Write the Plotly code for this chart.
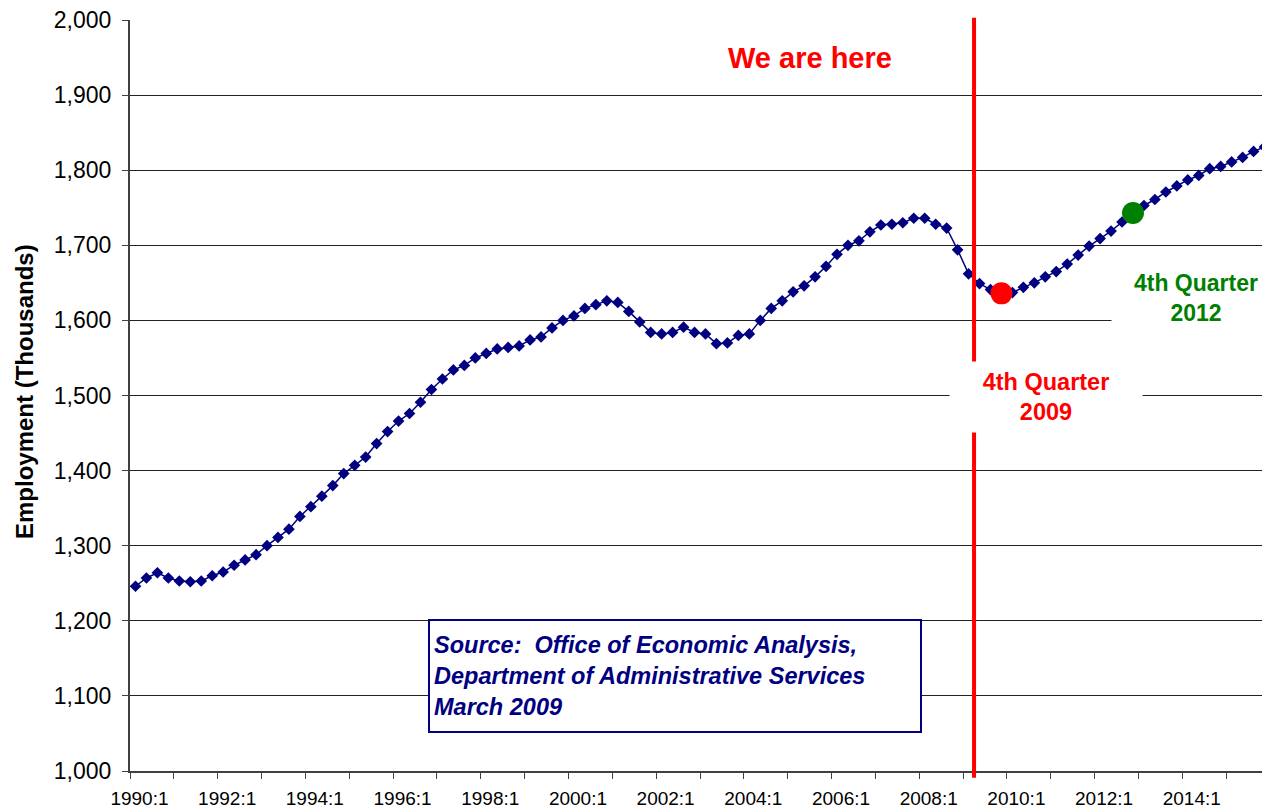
import plotly.graph_objects as go

# Quarterly employment (thousands), 1990:1 .. 2015:4
employment = [
    1246, 1257, 1264, 1257, 1253, 1252, 1253, 1260,   # 1990-1991
    1265, 1274, 1281, 1288, 1300, 1311, 1322, 1339,   # 1992-1993
    1352, 1366, 1380, 1396, 1407, 1418, 1436, 1452,   # 1994-1995
    1466, 1476, 1491, 1508, 1522, 1534, 1540, 1550,   # 1996-1997
    1556, 1562, 1564, 1566, 1574, 1578, 1590, 1600,   # 1998-1999
    1606, 1616, 1621, 1626, 1624, 1612, 1598, 1584,   # 2000-2001
    1582, 1584, 1591, 1584, 1582, 1569, 1570, 1580,   # 2002-2003
    1582, 1600, 1616, 1626, 1638, 1646, 1658, 1672,   # 2004-2005
    1688, 1700, 1706, 1718, 1727, 1728, 1730, 1736,   # 2006-2007
    1736, 1728, 1723, 1694, 1662, 1649, 1641, 1636,   # 2008-2009
    1637, 1644, 1650, 1658, 1665, 1675, 1687, 1699,   # 2010-2011
    1709, 1719, 1731, 1743, 1753, 1761, 1771, 1779,   # 2012-2013
    1787, 1793, 1802, 1805, 1811, 1817, 1825, 1831,   # 2014-2015
]

tick_labels = ["1990:1", "1992:1", "1994:1", "1996:1", "1998:1", "2000:1", "2002:1",
               "2004:1", "2006:1", "2008:1", "2010:1", "2012:1", "2014:1"]
tick_index = [0, 8, 16, 24, 32, 40, 48, 56, 64, 72, 80, 88, 96]

we_are_here_after = 76      # 2009:1
low_point = 79              # 2009:4
recovery_point = 91         # 2012:4

x = list(range(len(employment)))

NAVY = "#000080"
RED = "#ff0000"
GREEN = "#008000"
FONT = "Liberation Sans, Arial, sans-serif"

fig = go.Figure()
fig.add_trace(go.Scatter(
    x=x, y=employment, mode="lines+markers",
    line=dict(color=NAVY, width=1.5),
    marker=dict(symbol="diamond", size=9, color=NAVY),
    hoverinfo="x+y"))
fig.add_trace(go.Scatter(
    x=[x[low_point]], y=[employment[low_point]], mode="markers",
    marker=dict(size=22, color=RED)))
fig.add_trace(go.Scatter(
    x=[x[recovery_point]], y=[employment[recovery_point]], mode="markers",
    marker=dict(size=22, color=GREEN)))

# vertical "we are here" line
fig.add_shape(type="line", xref="x", yref="paper",
              x0=we_are_here_after + 0.5, x1=we_are_here_after + 0.5,
              y0=-0.009, y1=1.003, line=dict(color=RED, width=4), layer="above")

# page body has an 8px margin: size the figure so the plot area lands where the reference's does
fig.update_layout(
    width=1262, height=801,
    margin=dict(l=122, r=0, t=12, b=38),
    plot_bgcolor="white", paper_bgcolor="white",
    showlegend=False,
    font=dict(family=FONT, color="black"),
)

fig.update_xaxes(
    range=[-0.5, len(employment) - 0.5],
    tickmode="array", tickvals=tick_index, ticktext=tick_labels,
    ticks="", showgrid=False, zeroline=False,
    showline=True, linecolor="#404040", linewidth=2,
    tickfont=dict(size=19, family=FONT, color="black"),
    ticklabelstandoff=9, ticklabelshift=4, ticklabeloverflow="allow",
    minor=dict(tickmode="linear", tick0=-0.5, dtick=4, ticks="outside",
               ticklen=6, tickcolor="#404040", tickwidth=1, showgrid=False),
)
fig.update_yaxes(
    range=[1000, 2000], tickmode="linear", tick0=1000, dtick=100,
    tickformat=",", showgrid=True, gridcolor="#222222", gridwidth=1,
    zeroline=False, showline=True, linecolor="#404040", linewidth=2,
    ticks="outside", ticklen=6, tickcolor="#404040",
    ticklabelstandoff=6, ticklabeloverflow="allow",
    tickfont=dict(size=23, family=FONT, color="black"),
)

annotations = [
    dict(text="<b>Employment (Thousands)</b>", textangle=-90,
         xref="paper", yref="paper", x=(24 - 130) / 1140, y=(771 - 392) / 751,
         xanchor="center", yanchor="middle", showarrow=False,
         font=dict(size=24, family=FONT, color="black")),
    dict(text="<b>We are here</b>", xref="paper", yref="paper",
         x=(810 - 130) / 1140, y=(771 - 58) / 751,
         xanchor="center", yanchor="middle", showarrow=False,
         font=dict(size=29, family=FONT, color=RED)),
    dict(text="<b>4th Quarter<br>2009</b>", xref="paper", yref="paper",
         x=(1046 - 130) / 1140, y=(771 - 397) / 751,
         xanchor="center", yanchor="middle", showarrow=False,
         width=192, height=70, bgcolor="white", borderpad=0,
         font=dict(size=23.5, family=FONT, color=RED)),
    dict(text="<b>4th Quarter<br>2012</b>", xref="paper", yref="paper",
         x=(1196 - 130) / 1140, y=(771 - 298) / 751,
         xanchor="center", yanchor="middle", showarrow=False,
         width=168, height=70, bgcolor="white", borderpad=0,
         font=dict(size=23, family=FONT, color=GREEN)),
    dict(text="<b><i>Source:\u00a0 Office of Economic Analysis,<br>"
              "Department of Administrative Services<br>March 2009</i></b>",
         xref="paper", yref="paper",
         x=(428 - 130) / 1140, y=(771 - 619) / 751,
         xanchor="left", yanchor="top", showarrow=False, align="left",
         width=482, height=102, bgcolor="white", borderpad=4,
         bordercolor=NAVY, borderwidth=2,
         font=dict(size=23.5, family=FONT, color=NAVY)),
]
fig.update_layout(annotations=annotations)

fig.write_html("out.html")
